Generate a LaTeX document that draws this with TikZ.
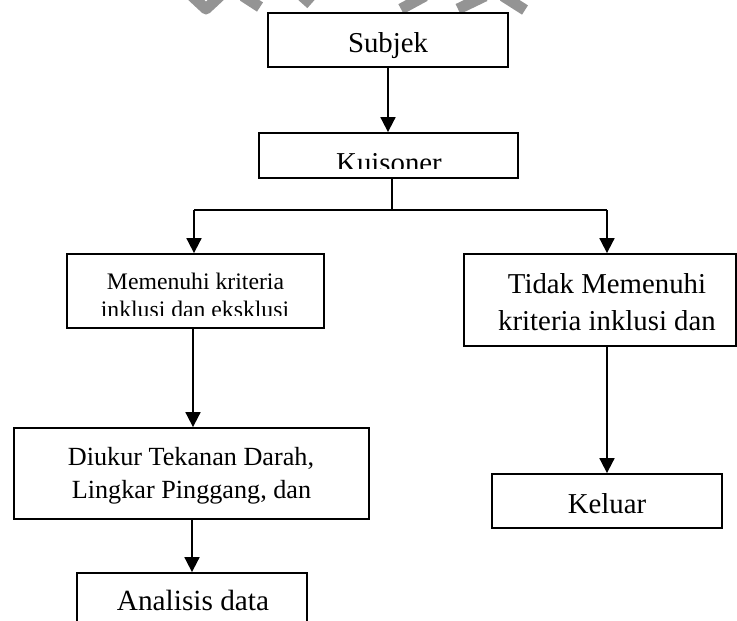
\documentclass[tikz,border=0pt]{standalone}
\usepackage{fontspec}
\setmainfont{Liberation Serif}
\usetikzlibrary{arrows.meta}
\tikzset{
  box/.style={draw, line width=1.8pt, fill=white, rectangle, inner sep=0pt, anchor=center},
  arr/.style={line width=1.8pt, -{Triangle[width=15pt,length=15pt]}},
  conn/.style={line width=1.8pt},
  txt/.style={anchor=base, inner sep=0pt, text=black},
  big/.style={font=\fontsize{28.8}{34}\selectfont},
  mid/.style={font=\fontsize{26.2}{32}\selectfont},
  small/.style={font=\fontsize{23.7}{28}\selectfont},
  wm/.style={line width=11pt, color=black!42, line cap=butt, line join=round}
}
\begin{document}
\begin{tikzpicture}[x=1pt,y=-1pt]
\clip (0,0) rectangle (737,621);
\fill[white] (0,0) rectangle (737,621);
% watermark fragment at the top
\draw[wm] (192,-4) -- (206,9) -- (220,-4);
\draw[wm] (243,-4) -- (260,7);
\draw[wm] (302,-4) -- (311,4);
\draw[wm] (401,9) -- (425,-4);
\draw[wm] (458,9) -- (485,-4);
\draw[wm] (503,-4) -- (525,10);
% boxes
\node[box, minimum width=240pt, minimum height=54pt] (subj) at (388,40) {};
\node[box, minimum width=259pt, minimum height=45pt] (kuis) at (388.5,155.5) {};
\node[box, minimum width=257pt, minimum height=74pt] (mem) at (195.5,291) {};
\node[box, minimum width=272pt, minimum height=92pt] (tidak) at (600,300) {};
\node[box, minimum width=355pt, minimum height=91pt] (diuk) at (191.5,473.5) {};
\node[box, minimum width=230pt, minimum height=54pt] (kel) at (607,501) {};
\node[box, minimum width=230pt, minimum height=90pt] (anal) at (192,618) {};
% texts
\node[txt, big] (tsubj) at (388,52) {Subjek};
\begin{scope}
  \clip (250,140) rectangle (530,168);
  \node[txt, big] (tkuis) at (389,172) {Kuisoner};
\end{scope}
\node[txt, small] (tmem1) at (195.5,289) {Memenuhi kriteria};
\begin{scope}
  \clip (70,292) rectangle (320,315.5);
  \node[txt, small] (tmem2) at (195,317) {inklusi dan eksklusi};
\end{scope}
\node[txt, big] (ttid1) at (607,293) {Tidak Memenuhi};
\node[txt, big] (ttid2) at (607,330) {kriteria inklusi dan};
\node[txt, mid] (tdiu1) at (191,465) {Diukur Tekanan Darah,};
\node[txt, mid] (tdiu2) at (191.5,498) {Lingkar Pinggang, dan};
\node[txt, big] (tkel) at (607,513) {Keluar};
\node[txt, font=\fontsize{29.3}{35}\selectfont] (tana) at (193,610) {Analisis data};
% connectors
\coordinate (j) at (392,210);
\coordinate (jl) at (194,210);
\coordinate (jr) at (607,210);
\draw[arr] (subj.south) -- (kuis.north -| subj.south);
\draw[conn] (kuis.south -| j) -- (j);
\draw[conn] (jl) -- (jr);
\draw[arr] (jl) -- (jl |- mem.north);
\draw[arr] (jr) -- (jr |- tidak.north);
\coordinate (ml) at (193,0);
\draw[arr] (mem.south -| ml) -- (diuk.north -| ml);
\draw[arr] (tidak.south -| kel.north) -- (kel.north);
\draw[arr] (diuk.south -| anal.north) -- (anal.north);
\end{tikzpicture}
\end{document}
